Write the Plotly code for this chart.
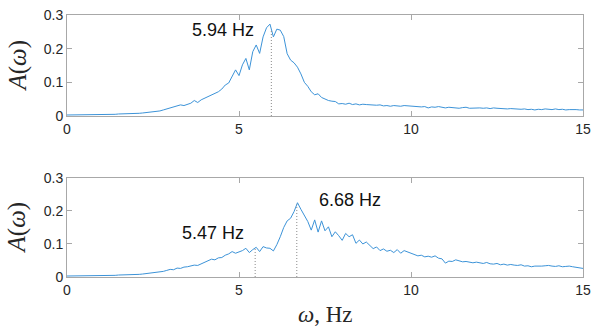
import numpy as np
import plotly.graph_objects as go

freq = np.round(np.arange(0, 15.0001, 0.1), 2)

amp_top = [
    0.003, 0.003, 0.003, 0.003, 0.003, 0.004, 0.004, 0.004, 0.004, 0.004,
    0.004, 0.005, 0.005, 0.005, 0.005, 0.006, 0.006, 0.006, 0.007, 0.007,
    0.008, 0.008, 0.009, 0.010, 0.011, 0.012, 0.013, 0.015, 0.018, 0.021,
    0.024, 0.027, 0.030, 0.033, 0.031, 0.035, 0.038, 0.046, 0.040, 0.048,
    0.053, 0.058, 0.062, 0.067, 0.072, 0.080, 0.092, 0.098, 0.117, 0.137,
    0.120, 0.152, 0.171, 0.137, 0.191, 0.211, 0.186, 0.235, 0.262, 0.273,
    0.235, 0.258, 0.255, 0.236, 0.185, 0.166, 0.158, 0.145, 0.125, 0.100,
    0.088, 0.072, 0.063, 0.066, 0.055, 0.050, 0.046, 0.044, 0.043, 0.036,
    0.037, 0.035, 0.038, 0.034, 0.036, 0.033, 0.035, 0.034, 0.033, 0.034,
    0.032, 0.033, 0.030, 0.031, 0.029, 0.031, 0.030, 0.029, 0.031, 0.030,
    0.030, 0.028, 0.029, 0.027, 0.028, 0.024, 0.027, 0.026, 0.028, 0.025,
    0.024, 0.026, 0.025, 0.026, 0.023, 0.025, 0.026, 0.023, 0.024, 0.025,
    0.024, 0.023, 0.024, 0.022, 0.024, 0.023, 0.022, 0.023, 0.021, 0.022,
    0.021, 0.022, 0.020, 0.021, 0.019, 0.020, 0.018, 0.020, 0.019, 0.021,
    0.020, 0.019, 0.021, 0.019, 0.020, 0.018, 0.019, 0.020, 0.019, 0.018,
    0.018,
]

amp_bottom = [
    0.003, 0.003, 0.003, 0.003, 0.003, 0.003, 0.004, 0.004, 0.004, 0.004,
    0.004, 0.005, 0.005, 0.005, 0.005, 0.006, 0.006, 0.006, 0.007, 0.007,
    0.008, 0.008, 0.009, 0.010, 0.011, 0.012, 0.013, 0.015, 0.017, 0.020,
    0.023, 0.022, 0.027, 0.026, 0.030, 0.031, 0.034, 0.036, 0.035, 0.040,
    0.044, 0.048, 0.054, 0.052, 0.058, 0.059, 0.066, 0.070, 0.077, 0.072,
    0.076, 0.080, 0.087, 0.074, 0.083, 0.090, 0.077, 0.092, 0.088, 0.087,
    0.079, 0.098, 0.122, 0.150, 0.170, 0.178, 0.198, 0.225, 0.205, 0.185,
    0.168, 0.142, 0.173, 0.136, 0.170, 0.140, 0.152, 0.122, 0.137, 0.125,
    0.111, 0.132, 0.122, 0.128, 0.102, 0.112, 0.100, 0.106, 0.095, 0.086,
    0.091, 0.080, 0.085, 0.078, 0.081, 0.074, 0.083, 0.072, 0.080, 0.076,
    0.074, 0.070, 0.064, 0.066, 0.061, 0.063, 0.060, 0.064, 0.057, 0.055,
    0.042, 0.048, 0.047, 0.052, 0.050, 0.046, 0.047, 0.044, 0.043, 0.045,
    0.042, 0.041, 0.044, 0.040, 0.039, 0.041, 0.037, 0.039, 0.036, 0.038,
    0.036, 0.035, 0.037, 0.033, 0.034, 0.031, 0.033, 0.032, 0.033, 0.034,
    0.035, 0.033, 0.032, 0.034, 0.031, 0.032, 0.033, 0.031, 0.030, 0.028,
    0.026,
]

peaks_top = [5.94]
peaks_bottom = [5.47, 6.68]
peak_labels_top = ["5.94 Hz"]
peak_labels_bottom = ["5.47 Hz", "6.68 Hz"]
label_pos_top = [(4.54, 0.255)]
label_pos_bottom = [(4.25, 0.133), (8.24, 0.233)]

x_ticks = [0, 5, 10, 15]
y_ticks = [0, 0.1, 0.2, 0.3]
y_ticktext = ["0", "0.1", "0.2", "0.3"]

LINE = "#3c93d8"
AX = "#a8a8a8"
TXT = "#262626"
DOT = "#8a8a8a"

fig = go.Figure()

fig.add_trace(go.Scatter(x=freq, y=amp_top, mode="lines", line=dict(color=LINE, width=1),
                         xaxis="x", yaxis="y", showlegend=False, hoverinfo="skip"))
fig.add_trace(go.Scatter(x=freq, y=amp_bottom, mode="lines", line=dict(color=LINE, width=1),
                         xaxis="x2", yaxis="y2", showlegend=False, hoverinfo="skip"))

for f in peaks_top:
    top = float(np.interp(f, freq, amp_top))
    fig.add_trace(go.Scatter(x=[f, f], y=[0, top], mode="lines",
                             line=dict(color=DOT, width=1, dash="1px,2px"),
                             xaxis="x", yaxis="y", showlegend=False, hoverinfo="skip"))
for f in peaks_bottom:
    top = float(np.interp(f, freq, amp_bottom))
    fig.add_trace(go.Scatter(x=[f, f], y=[0, top], mode="lines",
                             line=dict(color=DOT, width=1, dash="1px,2px"),
                             xaxis="x2", yaxis="y2", showlegend=False, hoverinfo="skip"))

annotations = []
for (lx, ly), t in zip(label_pos_top, peak_labels_top):
    annotations.append(dict(x=lx, y=ly, xref="x", yref="y", text=t, showarrow=False,
                            xanchor="center", yanchor="middle",
                            font=dict(family="Liberation Sans", size=18, color="#111111")))
for (lx, ly), t in zip(label_pos_bottom, peak_labels_bottom):
    annotations.append(dict(x=lx, y=ly, xref="x2", yref="y2", text=t, showarrow=False,
                            xanchor="center", yanchor="middle",
                            font=dict(family="Liberation Sans", size=18, color="#111111")))

serif = dict(family="Liberation Serif", size=25, color=TXT)
annotations.append(dict(x=-0.095, y=0.807, xref="paper", yref="paper", text="<i>A</i>(<i>ω</i>)",
                        xanchor="center", yanchor="middle",
                        textangle=-90, showarrow=False, font=serif))
annotations.append(dict(x=-0.095, y=0.189, xref="paper", yref="paper", text="<i>A</i>(<i>ω</i>)",
                        xanchor="center", yanchor="middle",
                        textangle=-90, showarrow=False, font=serif))
annotations.append(dict(x=0.5, y=-0.142, xref="paper", yref="paper", text="<i>ω</i>, Hz",
                        xanchor="center", yanchor="middle",
                        showarrow=False, font=dict(family="Liberation Serif", size=23, color=TXT)))

xcommon = dict(range=[0, 15], tickvals=x_ticks, showgrid=False, zeroline=False,
               showline=True, linecolor=AX, linewidth=1, mirror="allticks",
               ticks="inside", ticklen=5, tickcolor=AX, automargin=False,
               tickfont=dict(family="Liberation Sans", size=14, color=TXT))
ycommon = dict(range=[0, 0.3], tickvals=y_ticks, ticktext=y_ticktext, showgrid=False, zeroline=False,
               showline=True, linecolor=AX, linewidth=1, mirror="allticks",
               ticks="inside", ticklen=5, tickcolor=AX, automargin=False,
               tickfont=dict(family="Liberation Sans", size=14, color=TXT))

fig.update_layout(
    width=591, height=330,
    margin=dict(l=67, r=8, t=15, b=53),
    paper_bgcolor="white", plot_bgcolor="white",
    xaxis=dict(domain=[0, 1], anchor="y", **xcommon),
    yaxis=dict(domain=[0.6145, 1.0], anchor="x", **ycommon),
    xaxis2=dict(domain=[0, 1], anchor="y2", **xcommon),
    yaxis2=dict(domain=[0, 0.378], anchor="x2", **ycommon),
    annotations=annotations,
)

fig.write_html("out.html", config={"displayModeBar": False},
               post_script="document.body.style.margin='0';document.body.style.overflow='hidden';")
